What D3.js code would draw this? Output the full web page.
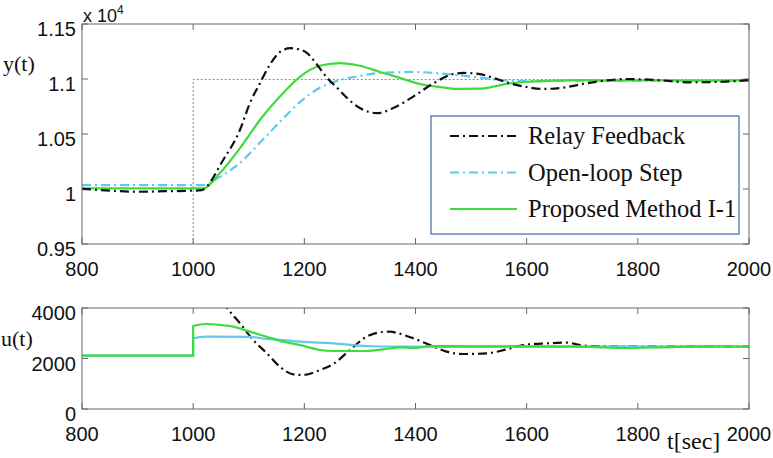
<!DOCTYPE html>
<html>
<head>
<meta charset="utf-8">
<script src="https://cdn.jsdelivr.net/npm/d3@7"></script>
<style>
  body { margin: 0; background: #fff; }
  svg { display: block; }
  .tick-label { font-family: "Liberation Sans", Arial, sans-serif; font-size: 20px; fill: #111; }
  .serif { font-family: "Liberation Serif", "Times New Roman", serif; fill: #111; }
</style>
</head>
<body>
<div id="chart"></div>
<script>
// ---- data (y in units of 1e4, t in seconds) ----
var xTicks = [800, 1000, 1200, 1400, 1600, 1800, 2000];
var yTicksTop = [0.95, 1, 1.05, 1.1, 1.15];
var yTicksBot = [0, 2000, 4000];

var legendNames = ["Relay Feedback", "Open-loop Step", "Proposed Method I-1"];

var setpoint = [[1000, 0.95], [1000, 1.0995], [2000, 1.0995]];

var yRelay = [[800, 1.0002], [850, 0.9985], [900, 0.9975], [950, 0.998], [1000, 0.9985], [1015, 0.999],
  [1054, 1.0264], [1084, 1.0536], [1102, 1.078], [1120, 1.096], [1138, 1.113], [1156, 1.1245],
  [1175, 1.128], [1190, 1.127], [1205, 1.1236], [1223, 1.113], [1241, 1.101], [1259, 1.092],
  [1277, 1.0827], [1300, 1.0736], [1331, 1.069], [1360, 1.0736], [1396, 1.084], [1432, 1.096],
  [1468, 1.1045], [1486, 1.1055], [1516, 1.1045], [1540, 1.101], [1570, 1.096], [1600, 1.0927],
  [1630, 1.091], [1673, 1.0927], [1701, 1.0955], [1732, 1.098], [1780, 1.1], [1835, 1.099],
  [1894, 1.097], [1953, 1.0975], [2000, 1.099]];

var yOpen = [[800, 1.0036], [900, 1.0036], [1000, 1.0036], [1018, 1.0036], [1048, 1.011],
  [1084, 1.0236], [1120, 1.042], [1156, 1.061], [1192, 1.079], [1228, 1.092], [1264, 1.099],
  [1300, 1.1027], [1336, 1.1055], [1396, 1.1064], [1456, 1.1045], [1504, 1.102], [1552, 1.099],
  [1600, 1.098], [1700, 1.0985], [1800, 1.0985], [1900, 1.0985], [2000, 1.0985]];

var yProp = [[800, 1.0005], [900, 1.0005], [1000, 1.0005], [1018, 1.0005], [1048, 1.0145],
  [1084, 1.037], [1120, 1.0627], [1156, 1.084], [1192, 1.102], [1228, 1.112], [1264, 1.1145],
  [1300, 1.112], [1336, 1.1064], [1372, 1.101], [1408, 1.0955], [1444, 1.0927], [1474, 1.091],
  [1516, 1.0912], [1540, 1.093], [1564, 1.0955], [1600, 1.0975], [1650, 1.0985], [1700, 1.099],
  [1760, 1.0985], [1820, 1.099], [1900, 1.0985], [2000, 1.099]];

var uRelay = [[1000, 6200], [1040, 4700], [1061, 4000], [1084, 3400],
  [1108, 2733], [1132, 2218], [1156, 1676], [1180, 1373], [1198, 1346], [1228, 1544],
  [1252, 1782], [1282, 2337], [1312, 2864], [1336, 3036], [1354, 3063], [1370, 2990],
  [1396, 2800], [1426, 2535], [1456, 2270], [1486, 2178], [1528, 2205], [1564, 2363],
  [1594, 2535], [1636, 2600], [1672, 2627], [1696, 2535], [1730, 2480], [1800, 2470],
  [1900, 2470], [2000, 2470]];

var uOpen = [[800, 2110], [999.9, 2110], [1000, 2800], [1024, 2865], [1102, 2860], [1132, 2772],
  [1162, 2733], [1192, 2666], [1252, 2600], [1312, 2495], [1372, 2468], [1450, 2460],
  [1600, 2470], [1800, 2470], [2000, 2470]];

var uProp = [[800, 2110], [999.9, 2110], [1000, 3287], [1024, 3366], [1048, 3330], [1072, 3260],
  [1102, 3063], [1132, 2864], [1162, 2666], [1192, 2535], [1228, 2337], [1252, 2297],
  [1312, 2297], [1342, 2363], [1372, 2443], [1400, 2416], [1426, 2495], [1500, 2480],
  [1600, 2480], [1700, 2470], [1780, 2416], [1850, 2450], [1930, 2480], [2000, 2470]];

// ---- layout ----
var W = 773, H = 458;
var svg = d3.select("#chart").append("svg").attr("width", W).attr("height", H);

var colors = ["#111111", "#62c9ec", "#3ddc3a"];
var dashes = ["9,4,2,4", "9,4,2,4", null];

var x = d3.scaleLinear().domain([800, 2000]).range([82, 749]);
var yTop = d3.scaleLinear().domain([0.95, 1.15]).range([244, 24]);
var yBot = d3.scaleLinear().domain([0, 4000]).range([409, 308]);

function drawPanel(id, y, yTicks, yFmt, series, styles) {
  var top = y.range()[1], bottom = y.range()[0];
  var g = svg.append("g");

  svg.append("clipPath").attr("id", id)
    .append("rect").attr("x", x.range()[0]).attr("y", top)
    .attr("width", x.range()[1] - x.range()[0]).attr("height", bottom - top);

  // inward ticks
  xTicks.forEach(function (t) {
    g.append("line").attr("x1", x(t)).attr("x2", x(t)).attr("y1", bottom).attr("y2", bottom - 6)
      .attr("stroke", "#666");
    g.append("line").attr("x1", x(t)).attr("x2", x(t)).attr("y1", top).attr("y2", top + 6)
      .attr("stroke", "#666");
    g.append("text").attr("class", "tick-label").attr("x", x(t)).attr("y", bottom + 32)
      .attr("text-anchor", "middle").text(t);
  });
  yTicks.forEach(function (v) {
    g.append("line").attr("x1", x.range()[0]).attr("x2", x.range()[0] + 6).attr("y1", y(v)).attr("y2", y(v))
      .attr("stroke", "#666");
    g.append("line").attr("x1", x.range()[1]).attr("x2", x.range()[1] - 6).attr("y1", y(v)).attr("y2", y(v))
      .attr("stroke", "#666");
    g.append("text").attr("class", "tick-label").attr("x", 76).attr("y", y(v) + 12)
      .attr("text-anchor", "end").text(yFmt(v));
  });

  var line = d3.line().x(function (d) { return x(d[0]); }).y(function (d) { return y(d[1]); })
    .curve(d3.curveMonotoneX);

  var lines = g.append("g").attr("clip-path", "url(#" + id + ")");
  series.forEach(function (s, i) {
    lines.append("path").datum(s).attr("d", line).attr("fill", "none")
      .attr("stroke", colors[styles[i].c]).attr("stroke-width", 2.2)
      .attr("stroke-dasharray", styles[i].dash);
  });

  // box
  g.append("rect").attr("x", x.range()[0]).attr("y", top)
    .attr("width", x.range()[1] - x.range()[0]).attr("height", bottom - top)
    .attr("fill", "none").attr("stroke", "#666").attr("stroke-width", 1);
  return lines;
}

// top panel
var topLines = drawPanel("clipTop", yTop, yTicksTop, function (v) { return d3.format("")(v); },
  [yOpen, yProp, yRelay],
  [{ c: 1, dash: dashes[1] }, { c: 2, dash: null }, { c: 0, dash: dashes[0] }]);

topLines.insert("path", ":first-child").datum(setpoint)
  .attr("d", d3.line().x(function (d) { return x(d[0]); }).y(function (d) { return yTop(d[1]); }))
  .attr("fill", "none").attr("stroke", "#888").attr("stroke-width", 1).attr("stroke-dasharray", "2,2");

// bottom panel
drawPanel("clipBot", yBot, yTicksBot, function (v) { return v; },
  [uRelay, uOpen, uProp],
  [{ c: 0, dash: dashes[0] }, { c: 1, dash: null }, { c: 2, dash: null }]);

// axis texts
var mult = svg.append("text").attr("class", "tick-label").attr("x", 83).attr("y", 22)
  .style("font-size", "18px");
mult.append("tspan").text("x 10");
mult.append("tspan").attr("dy", -8).style("font-size", "12px").text("4");

svg.append("text").attr("class", "serif").attr("x", 3).attr("y", 71).style("font-size", "22px").text("y(t)");
svg.append("text").attr("class", "serif").attr("x", 1).attr("y", 346).style("font-size", "22px").text("u(t)");
svg.append("text").attr("class", "serif").attr("x", 667).attr("y", 449).style("font-size", "24px").text("t[sec]");

// legend
var lg = svg.append("g");
lg.append("rect").attr("x", 431).attr("y", 116).attr("width", 308).attr("height", 118)
  .attr("fill", "#fff").attr("stroke", "#4466aa").attr("stroke-width", 1.2);
var legY = d3.scalePoint().domain(legendNames).range([136, 209]);
var legStyles = [{ c: 0, dash: dashes[0] }, { c: 1, dash: dashes[1] }, { c: 2, dash: null }];
legendNames.forEach(function (n, i) {
  lg.append("line").attr("x1", 450).attr("x2", 517).attr("y1", legY(n)).attr("y2", legY(n))
    .attr("stroke", colors[legStyles[i].c]).attr("stroke-width", 2.2)
    .attr("stroke-dasharray", legStyles[i].dash);
  lg.append("text").attr("class", "serif").attr("x", 528).attr("y", legY(n) + 8)
    .style("font-size", "24.5px").text(n);
});
</script>
</body>
</html>
